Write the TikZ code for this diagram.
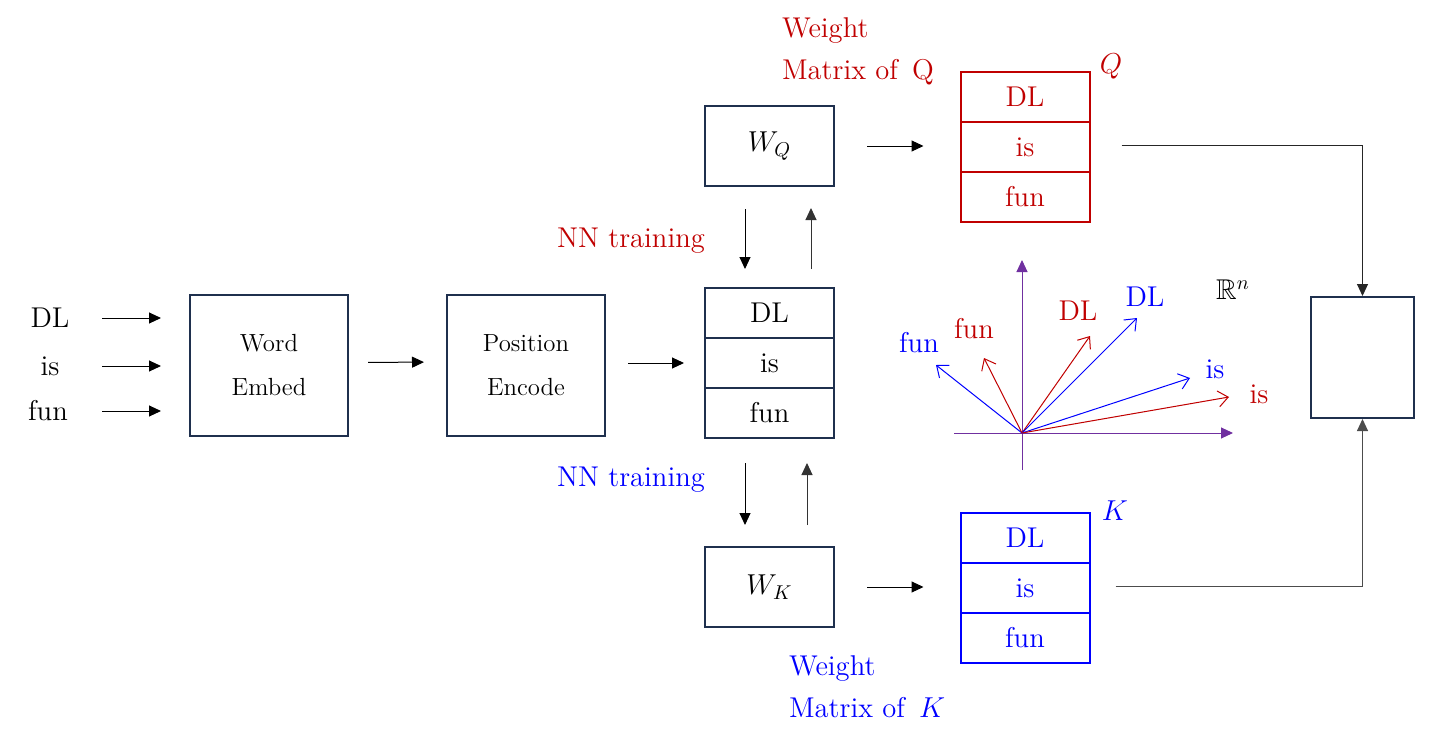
\documentclass[tikz,border=0pt]{standalone}
\usepackage{amsmath}
\usepackage{amssymb}
\usepackage{xcolor}
\usepackage{tikz}
\usetikzlibrary{arrows.meta}

\definecolor{navy}{RGB}{31,48,78}
\definecolor{qred}{RGB}{192,0,0}
\definecolor{kblue}{RGB}{0,0,255}
\definecolor{axpurple}{RGB}{112,48,160}

\begin{document}
\begin{tikzpicture}[x=0.5pt, y=-0.5pt, every node/.style={font=\fontsize{14.3}{16}\selectfont},
    box/.style={draw=navy, line width=1pt, minimum width=79pt, minimum height=70.5pt, inner sep=0pt, align=center, font=\fontsize{12.4}{22}\selectfont},
    wbox/.style={draw=navy, line width=1pt, minimum width=64.5pt, minimum height=40pt, inner sep=0pt},
    cell/.style={draw=navy, line width=1pt, minimum width=64.5pt, minimum height=25pt, inner sep=0pt},
    arr/.style={-{Triangle[length=6pt,width=5.5pt]}, line width=0.5pt},
    vec/.style={-{Straight Barb[length=5pt,width=8pt]}, line width=0.5pt}]
    \useasboundingbox (0,0) rectangle (1452,744);

    % Input words
    \node (in1) at (50,318) {DL};
    \node (in2) at (50,366) {is};
    \node (in3) at (48,411) {fun};

    % Embedding and position boxes
    \node[box] (embed) at (269,365.5) {Word\\Embed};
    \node[box] (pos) at (526,365) {Position\\Encode};
    \draw[arr] ([xshift=-43.5pt]embed.west |- in1) -- ([xshift=-14pt]embed.west |- in1);
    \draw[arr] ([xshift=-43.5pt]embed.west |- in2) -- ([xshift=-14pt]embed.west |- in2);
    \draw[arr] ([xshift=-43.5pt]embed.west |- in3) -- ([xshift=-14pt]embed.west |- in3);
    \draw[arr, shorten <=9.5pt, shorten >=11pt] ([yshift=1.5pt]embed.east) -- ([yshift=1.5pt]pos.west);

    % Token stack
    \node[cell] (e1) at (769.5,313) {DL};
    \node[cell] (e2) at (769.5,363) {is};
    \node[cell] (e3) at (769.5,413) {fun};
    \draw[arr, shorten <=11pt, shorten >=10pt] (pos.east |- e2) -- (e2.west);

    % Weight matrices
    \node[wbox] (wq) at (769.5,146) {$W_Q$};
    \node[wbox] (wk) at (769.5,587) {$W_K$};
    \draw[arr, shorten <=11pt, shorten >=9pt] ([xshift=-12.25pt]wq.south) -- ([xshift=-12.25pt]e1.north);
    \draw[arr, black!80, shorten <=9pt, shorten >=10.5pt] ([xshift=20.75pt]e1.north) -- ([xshift=20.75pt]wq.south);
    \draw[arr, shorten <=12pt, shorten >=10.5pt] ([xshift=-12.25pt]e3.south) -- ([xshift=-12.25pt]wk.north);
    \draw[arr, black!80, shorten <=10.5pt, shorten >=12pt] ([xshift=18.75pt]wk.north) -- ([xshift=18.75pt]e3.south);
    \node[qred] (nnq) at (631,241) {NN training};
    \node[kblue] (nnk) at (631,480) {NN training};

    % Q stack
    \node[cell, draw=qred, text=qred] (q1) at (1025,97) {DL};
    \node[cell, draw=qred, text=qred] (q2) at (1025,147) {is};
    \node[cell, draw=qred, text=qred] (q3) at (1025,197) {fun};
    \node[qred] (qlab) at (1111,66) {$Q$};
    \node[qred, align=left, anchor=west, font=\fontsize{14.3}{21}\selectfont] (wqlab) at (775,51) {Weight\\Matrix of \,Q};
    \draw[arr, shorten <=16pt, shorten >=18pt] (wq.east) -- (wq.east -| q2.west);

    % K stack
    \node[cell, draw=kblue, text=kblue] (k1) at (1025,538) {DL};
    \node[cell, draw=kblue, text=kblue] (k2) at (1025,588) {is};
    \node[cell, draw=kblue, text=kblue] (k3) at (1025,638) {fun};
    \node[kblue] (klab) at (1115,511) {$K$};
    \node[kblue, align=left, anchor=west, font=\fontsize{14.3}{21}\selectfont] (wklab) at (782,687) {Weight\\Matrix of \,$K$};
    \draw[arr, shorten <=16pt, shorten >=18pt] (wk.east) -- (wk.east -| k2.west);

    % Output box
    \node[draw=navy, line width=1pt, minimum width=51.5pt, minimum height=60.5pt, inner sep=0pt] (fin) at (1362.5,357.5) {};
    \draw[arr, black!85] ([xshift=15.5pt,yshift=1pt]q2.east) -| (fin.north);
    \draw[arr, black!70] ([xshift=12.5pt,yshift=1pt]k2.east) -| (fin.south);

    % Vector space
    \coordinate (o) at (1022,433);
    \draw[axpurple, line width=0.5pt, -{Triangle[length=6pt,width=5.5pt]}] (954,433) -- (1233,433);
    \draw[axpurple, line width=0.5pt, -{Triangle[length=6pt,width=5.5pt]}] (1022,470) -- (1022,260);
    \draw[vec, kblue] (o) -- (936,365);
    \draw[vec, qred] (o) -- (984,358);
    \draw[vec, qred] (o) -- (1090,336);
    \draw[vec, kblue] (o) -- (1137,318);
    \draw[vec, kblue] (o) -- (1190,378);
    \draw[vec, qred] (o) -- (1229,397);
    \node[kblue] (vfk) at (919,343) {fun};
    \node[qred] (vfq) at (974,329) {fun};
    \node[qred] (vdq) at (1078,311) {DL};
    \node[kblue] (vdk) at (1145,297) {DL};
    \node[kblue] (vik) at (1215,369) {is};
    \node[qred] (viq) at (1259,394) {is};
    \node (rn) at (1233,290) {$\mathbb{R}^n$};
\end{tikzpicture}
\end{document}
